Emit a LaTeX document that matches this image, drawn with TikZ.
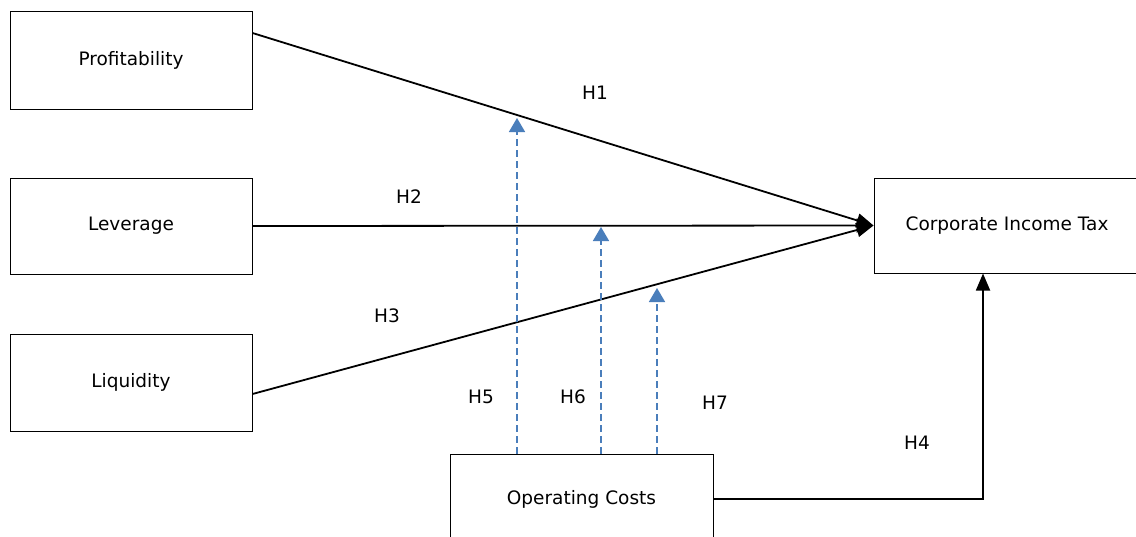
\documentclass[tikz,border=0pt]{standalone}
\usepackage{fontspec}
\setmainfont{DejaVu Sans}
\usetikzlibrary{arrows.meta,positioning,calc}
\definecolor{modblue}{RGB}{74,126,187}
\tikzset{
  varbox/.style={draw,line width=1pt,inner sep=0pt,font=\fontsize{18.5}{22}\selectfont},
  effect/.style={line width=1.8pt,-{Triangle[length=17pt,width=14pt]}},
  moderation/.style={modblue,line width=1.6pt,dash pattern=on 7pt off 4pt,-{Triangle[length=14pt,width=16pt]}},
  hyp/.style={font=\fontsize{18.5}{22}\selectfont}
}
\begin{document}
\begin{tikzpicture}[x=1pt,y=-1pt]
	\clip (0,0) rectangle (1136,536);
	\fill[white] (0,0) rectangle (1136,536);
	% variables
	\node[varbox,minimum width=242pt,minimum height=98pt] (prof) at (131,60) {Profitability};
	\node[varbox,minimum width=242pt,minimum height=96pt] (lev) at (131,226) {Leverage};
	\node[varbox,minimum width=242pt,minimum height=97pt] (liq) at (131,382.5) {Liquidity};
	\node[varbox,minimum width=266pt,minimum height=95pt] (cit) at (1007,225.5) {Corporate Income Tax};
	\node[varbox,minimum width=263pt,minimum height=90pt] (opc) at (581.5,499) {Operating Costs};
	% direct effects
	\draw[effect] ([yshift=27pt]prof.east) -- (cit.west);
	\draw[effect] (lev.east) -- (cit.west);
	\draw[effect] ([yshift=-11.5pt]liq.east) -- (cit.west);
	\draw[effect] (opc.east) -| ([xshift=-24pt]cit.south);
	% moderating effects
	\coordinate (tip5) at (517,118);
	\coordinate (tip6) at (601,227);
	\coordinate (tip7) at (657,288);
	\draw[moderation] (tip5 |- opc.north) -- (tip5);
	\draw[moderation] (tip6 |- opc.north) -- (tip6);
	\draw[moderation] (tip7 |- opc.north) -- (tip7);
	% hypotheses
	\node[hyp] (h1) at (595,93) {H1};
	\node[hyp] (h2) at (409,197) {H2};
	\node[hyp] (h3) at (387,316) {H3};
	\node[hyp] (h4) at (917,443) {H4};
	\node[hyp] (h5) at (481,397) {H5};
	\node[hyp] (h6) at (573,397) {H6};
	\node[hyp] (h7) at (715,403) {H7};
\end{tikzpicture}
\end{document}
